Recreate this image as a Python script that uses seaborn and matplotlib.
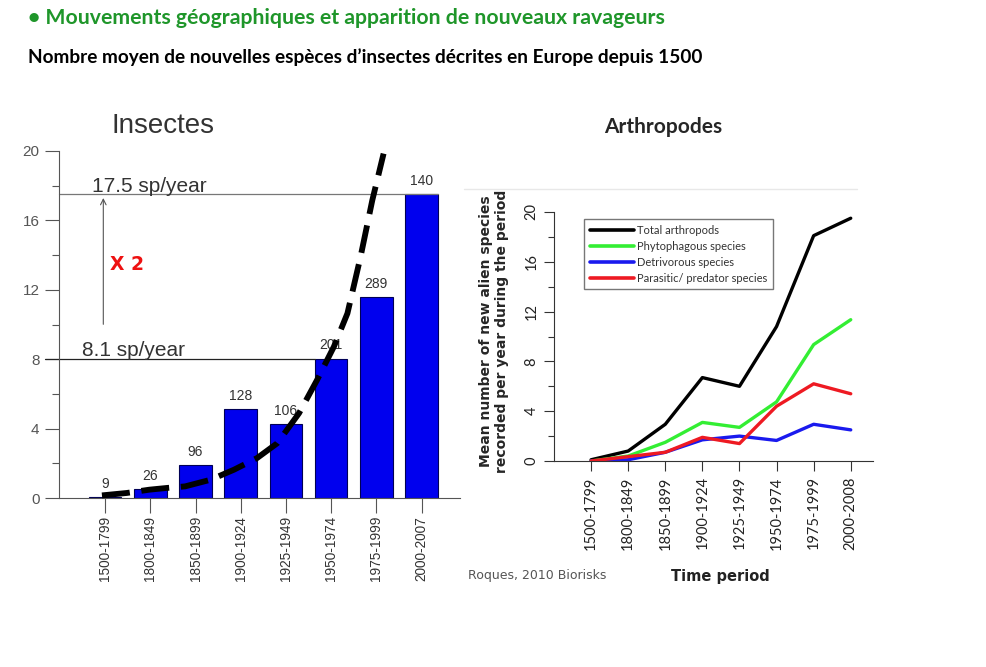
import numpy as np
import pandas as pd
import matplotlib
matplotlib.use("Agg")
import matplotlib.pyplot as plt
import seaborn as sns

# ---------------- data ----------------
ins_periods = ["1500-1799", "1800-1849", "1850-1899", "1900-1924",
               "1925-1949", "1950-1974", "1975-1999", "2000-2007"]
ins_rate = [0.03, 0.52, 1.92, 5.12, 4.24, 8.04, 11.56, 17.5]
ins_counts = ["9", "26", "96", "128", "106", "201", "289", "140"]

# dashed trend curve (category position, value)
trend_pos = [-0.07, 0.48, 0.98, 1.37, 1.77, 2.33, 2.85, 3.36, 3.81, 4.29,
             4.69, 5.06, 5.36, 5.65, 5.91, 6.16]
trend_val = [0.15, 0.29, 0.48, 0.58, 0.67, 1.05, 1.63, 2.30, 3.16, 4.89,
             6.81, 8.72, 10.64, 13.9, 17.16, 19.85]

arth_periods = ["1500-1799", "1800-1849", "1850-1899", "1900-1924",
                "1925-1949", "1950-1974", "1975-1999", "2000-2008"]
total_arth = [0.1, 0.8, 2.95, 6.7, 6.0, 10.8, 18.1, 19.5]
phyto = [0.0, 0.4, 1.5, 3.1, 2.7, 4.75, 9.35, 11.35]
detri = [0.0, 0.1, 0.7, 1.7, 2.0, 1.65, 2.95, 2.5]
parasit = [0.0, 0.35, 0.7, 1.9, 1.4, 4.4, 6.2, 5.4]
series_names = ["Total arthropods", "Phytophagous species",
                "Detrivorous species", "Parasitic/ predator species"]
series_colors = ["#000000", "#33ee33", "#1a1aee", "#ee1a22"]

# ---------------- figure ----------------
sns.set_style("ticks")
plt.rcParams["font.family"] = ["Liberation Sans", "DejaVu Sans"]

W, H = 986, 667
fig = plt.figure(figsize=(W / 100, H / 100), dpi=100)
fig.patch.set_facecolor("white")

def fx(px):
    return px / W

def fy(py):
    return 1 - py / H

fig.text(fx(28), fy(18), "• Mouvements géographiques et apparition de nouveaux ravageurs",
         color="#1f962a", fontsize=15.3, fontweight="bold",
         family=["Lato", "DejaVu Sans"], va="center", ha="left")
fig.text(fx(28), fy(57), "Nombre moyen de nouvelles espèces d’insectes décrites en Europe depuis 1500",
         color="black", fontsize=13.7, fontweight="bold",
         family=["Lato", "DejaVu Sans"], va="center", ha="left")

# ---------------- left chart ----------------
axL = fig.add_axes([fx(59), fy(498), fx(460 - 59), (498 - 151) / H])
dfL = pd.DataFrame({"period": ins_periods, "rate": ins_rate})
sns.barplot(data=dfL, x="period", y="rate", ax=axL, color="#0000ee",
            saturation=1, width=0.72, edgecolor="#000055", linewidth=0.8)
axL.set_xlim(-1.02, 7.85)
axL.set_ylim(0, 20)
axL.set_xlabel("")
axL.set_ylabel("")
axL.set_yticks([0, 4, 8, 12, 16, 20])
axL.set_yticks([2, 6, 10, 14, 18], minor=True)
axL.tick_params(axis="y", which="major", length=10, width=0.8, color="#555555",
                labelsize=11, labelcolor="#555555", pad=4)
axL.tick_params(axis="y", which="minor", length=5, width=0.8, color="#555555")
axL.tick_params(axis="x", length=11, width=0.8, color="#555555",
                labelsize=9.8, labelcolor="#333333", pad=2)
axL.set_xticks(range(len(ins_periods)))
axL.set_xticklabels(ins_periods, rotation=90)
for s in ["top", "right"]:
    axL.spines[s].set_visible(False)
axL.spines["left"].set_color("#555555")
axL.spines["bottom"].set_color("#555555")
axL.spines["left"].set_linewidth(0.8)
axL.spines["bottom"].set_linewidth(0.8)

for i, (v, c) in enumerate(zip(ins_rate, ins_counts)):
    axL.text(i, v + 0.35, c, ha="center", va="bottom", fontsize=10, color="#333333")

# reference lines
axL.plot([-1.02, 7 + 0.36], [17.5, 17.5], color="#777777", lw=0.9, clip_on=False, zorder=1)
axL.plot([-1.33, 5 - 0.36], [8.04, 8.04], color="#222222", lw=0.9, clip_on=False, zorder=1)
axL.text(-0.29, 17.62, "17.5 sp/year", fontsize=15, color="#333333", va="baseline", ha="left")
axL.text(-0.51, 8.2, "8.1 sp/year", fontsize=15, color="#333333", va="baseline", ha="left")
axL.annotate("", xy=(-0.04, 17.45), xytext=(-0.04, 9.85),
             arrowprops=dict(arrowstyle="->", color="#555555", lw=0.8))
axL.text(0.11, 13.43, "X 2", color="#ee1111", fontsize=13.5, fontweight="bold",
         family=["DejaVu Sans"], va="center", ha="left")

sns.lineplot(x=trend_pos, y=trend_val, ax=axL, sort=False, estimator=None,
             color="black", lw=4.2, linestyle=(0, (4.8, 2.0)), clip_on=False, zorder=5)

axL.set_title("Insectes", fontsize=20, color="#333333", loc="left", x=(112 - 59) / (460 - 59),
              pad=13)

# ---------------- right chart ----------------
fig.text(fx(663), fy(127), "Arthropodes", fontsize=15, fontweight="bold",
         family=["Lato", "DejaVu Sans"], ha="center", va="center")
fig.add_artist(plt.Line2D([fx(464), fx(857)], [fy(189), fy(189)], color="#e8e8e8", lw=1))

axR = fig.add_axes([fx(554), fy(461), fx(873 - 554), (461 - 212) / H])
pos = np.arange(len(arth_periods))
dfR = pd.DataFrame({
    "pos": np.tile(pos, 4),
    "value": total_arth + phyto + detri + parasit,
    "series": np.repeat(series_names, len(arth_periods)),
})
sns.lineplot(data=dfR, x="pos", y="value", hue="series", hue_order=series_names,
             palette=series_colors, ax=axR, lw=2.4, estimator=None, sort=False)
axR.set_xlim(-1.0, 7.6)
axR.set_ylim(0, 20)
axR.set_xticks(pos)
axR.set_xticklabels(arth_periods, rotation=90, family=["Lato", "DejaVu Sans"])
axR.set_yticks([0, 4, 8, 12, 16, 20])
axR.set_yticks([2, 6, 10, 14, 18], minor=True)
axR.set_yticklabels(["0", "4", "8", "12", "16", "20"], rotation=90, va="center",
                    family=["Lato", "DejaVu Sans"])
axR.tick_params(axis="both", which="major", length=7, width=0.8, color="#333333",
                labelsize=10.5, labelcolor="#222222", pad=4)
axR.tick_params(axis="y", which="minor", length=4, width=0.8, color="#333333")
for s in ["top", "right"]:
    axR.spines[s].set_visible(False)
axR.spines["left"].set_color("#333333")
axR.spines["bottom"].set_color("#333333")
axR.spines["left"].set_linewidth(0.8)
axR.spines["bottom"].set_linewidth(0.8)
axR.set_xlabel("")
axR.set_ylabel("")

leg = axR.legend(loc="upper left", bbox_to_anchor=(fx(584 - 554) / fx(873 - 554), (461 - 219) / (461 - 212)),
                 frameon=True, fancybox=False, handlelength=4.0,
                 handletextpad=0.3, borderpad=0.5, labelspacing=0.45,
                 borderaxespad=0,
                 prop={"family": ["Lato", "DejaVu Sans"], "size": 8})
leg.get_frame().set_edgecolor("#555555")
leg.get_frame().set_linewidth(1.0)
for line in leg.get_lines():
    line.set_linewidth(2.6)
for t in leg.get_texts():
    t.set_color("#333333")

fig.text(fx(494), fy(331), "Mean number of new alien species\nrecorded per year during the period",
         rotation=90, fontsize=10, fontweight="bold", family=["DejaVu Sans"],
         ha="center", va="center", linespacing=1.15)
fig.text(fx(720), fy(576), "Time period", fontsize=10.5, fontweight="bold",
         family=["DejaVu Sans"], ha="center", va="center", color="#222222")
fig.text(fx(468), fy(575), "Roques, 2010 Biorisks", fontsize=9, color="#555555",
         family=["DejaVu Sans"], ha="left", va="center")

fig.savefig("out.png", dpi=100, facecolor="white")
